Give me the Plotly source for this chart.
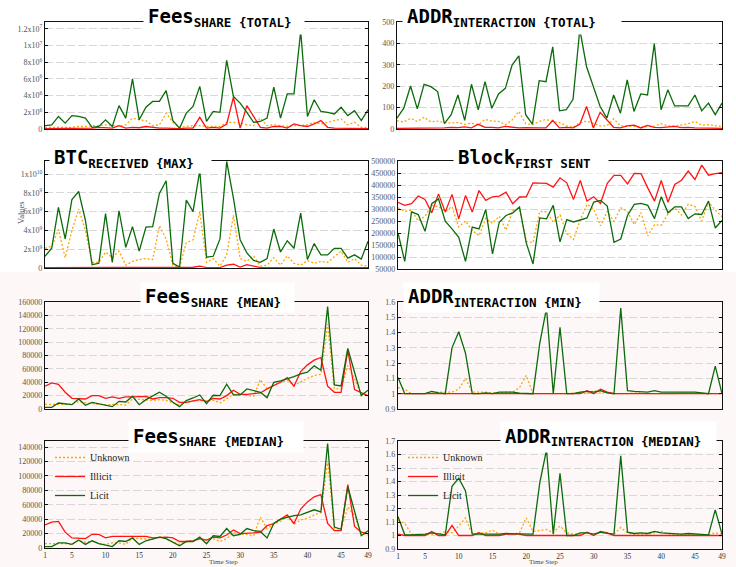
import plotly.graph_objects as go

W, H = 736, 567
steps = list(range(1, 50))

# ---------------- data ----------------
fees_total_unknown = [0.2e6,0.2e6,0.2e6,0.2e6,0.2e6,0.3e6,0.3e6,0.4e6,0.4e6,0.5e6,
                      0.4e6,0.3e6,0.5e6,1.3e6,1.1e6,1.0e6,0.4e6,0.5e6,1.9e6,0.8e6,
                      0.2e6,0.3e6,0.4e6,0.4e6,0.3e6,0.3e6,0.3e6,0.8e6,0.8e6,0.7e6,
                      0.5e6,0.4e6,1.3e6,0.4e6,0.5e6,0.4e6,0.3e6,0.4e6,0.4e6,0.5e6,
                      0.8e6,0.6e6,0.8e6,1.0e6,1.2e6,0.5e6,0.8e6,0.2e6,0.2e6]
fees_total_illicit = [0.05e6,0.05e6,0.05e6,0.05e6,0.05e6,0.05e6,0.1e6,0.1e6,0.2e6,0.15e6,
                      0.1e6,0.4e6,0.1e6,0.2e6,0.15e6,0.3e6,0.2e6,0.1e6,0.1e6,0.05e6,
                      0.05e6,0.1e6,0.1e6,1.4e6,0.1e6,0.2e6,0.1e6,0.6e6,3.8e6,0.1e6,
                      2.8e6,1.5e6,0.2e6,0.1e6,0.3e6,0.3e6,0.1e6,0.6e6,0.4e6,0.3e6,
                      0.6e6,1.0e6,0.2e6,0.1e6,0.1e6,0.1e6,0.1e6,0.05e6,0.05e6]
fees_total_licit = [0.4e6,0.5e6,1.5e6,0.7e6,1.6e6,1.5e6,1.3e6,0.2e6,0.3e6,1.1e6,
                    0.3e6,2.8e6,1.3e6,6.0e6,1.1e6,2.6e6,3.3e6,3.3e6,4.6e6,1.0e6,
                    0.1e6,1.9e6,2.7e6,5.1e6,0.9e6,2.1e6,2.0e6,8.2e6,3.9e6,3.1e6,
                    2.0e6,0.8e6,0.9e6,1.3e6,5.0e6,1.3e6,4.2e6,4.2e6,11.7e6,1.5e6,
                    3.5e6,2.1e6,2.0e6,1.8e6,2.6e6,1.6e6,2.2e6,1.0e6,2.3e6]

addr_total_unknown = [38,33,50,35,55,33,37,30,28,30, 22,27,20,45,37,36,20,42,82,25,
                      20,35,45,35,30,15,8,30,37,25, 15,15,48,15,15,12,8,10,13,25,
                      15,15,18,25,35,18,20,15,12]
addr_total_illicit = [3,3,3,3,3,4,5,5,8,6, 10,5,22,8,8,5,12,8,5,6,
                      4,5,5,40,5,8,5,22,105,5, 78,45,8,5,15,18,5,17,8,6,
                      8,12,6,8,5,5,3,3,3]
addr_total_licit = [51,97,201,94,209,198,175,25,67,159, 40,209,90,221,97,164,190,299,342,67,
                    23,226,221,384,85,90,139,465,291,195, 105,51,159,74,229,82,164,159,399,90,
                    183,108,108,108,159,85,121,67,121]

btc_max_unknown = [2.1e9,2.3e9,4.1e9,1.1e9,4.0e9,6.3e9,4.0e9,0.6e9,0.6e9,1.7e9,
                   1.1e9,1.8e9,0.3e9,0.7e9,0.9e9,1.0e9,0.9e9,4.5e9,3.1e9,0.3e9,
                   0.1e9,2.7e9,3.0e9,6.0e9,0.6e9,1.0e9,0.2e9,1.4e9,5.6e9,1.0e9,
                   0.7e9,1.3e9,0.2e9,0.3e9,1.1e9,0.3e9,1.3e9,0.5e9,0.3e9,0.8e9,
                   0.5e9,0.7e9,0.6e9,1.2e9,1.8e9,0.6e9,1.0e9,0.3e9,0.2e9]
btc_max_illicit = [0.05e9,0.05e9,0.05e9,0.05e9,0.05e9,0.05e9,0.05e9,0.05e9,0.1e9,0.08e9,
                   0.05e9,0.08e9,0.05e9,0.05e9,0.05e9,0.05e9,0.05e9,0.05e9,0.05e9,0.05e9,
                   0.05e9,0.05e9,0.08e9,0.2e9,0.05e9,0.05e9,0.05e9,0.3e9,0.4e9,0.1e9,
                   0.35e9,0.2e9,0.05e9,0.05e9,0.05e9,0.05e9,0.05e9,0.05e9,0.05e9,0.05e9,
                   0.05e9,0.05e9,0.05e9,0.05e9,0.05e9,0.05e9,0.05e9,0.05e9,0.05e9]
btc_max_licit = [1.24e9,2.1e9,6.45e9,3.1e9,7.3e9,8.15e9,5.1e9,0.35e9,0.5e9,5.8e9,
                 0.6e9,6.1e9,2.2e9,4.4e9,1.8e9,4.35e9,4.4e9,7.95e9,9.3e9,0.5e9,
                 0.1e9,7.25e9,6.0e9,10.4e9,1.15e9,1.25e9,3.1e9,11.35e9,7.45e9,3.0e9,
                 1.6e9,0.8e9,0.6e9,1.0e9,4.15e9,1.7e9,2.9e9,2.1e9,5.85e9,0.9e9,
                 2.6e9,1.4e9,1.4e9,2.1e9,2.1e9,1.05e9,1.4e9,0.95e9,2.85e9]

block_first_unknown = [305000,290000,295000,250000,270000,315000,310000,290000,310000,225000,
                       250000,210000,188000,262000,240000,270000,212000,295000,300000,165000,
                       160000,290000,288000,245000,275000,198000,173000,255000,320000,300000,
                       230000,290000,248000,305000,290000,235000,285000,188000,235000,232000,
                       280000,305000,275000,320000,310000,250000,330000,295000,268000]
block_first_illicit = [328000,315000,322000,354000,340000,284000,363000,287000,361000,259000,
                       356000,287000,377000,336000,351000,354000,370000,322000,350000,351000,
                       409000,408000,407000,391000,430000,409000,340000,419000,333000,351000,
                       323000,407000,440000,440000,405000,448000,447000,388000,333000,419000,
                       328000,402000,420000,458000,423000,483000,441000,447000,451000]
block_first_licit = [200000,82000,288000,277000,207000,322000,342000,249000,217000,182000,
                     82000,225000,217000,298000,113000,245000,273000,284000,308000,159000,
                     71000,263000,259000,315000,163000,256000,246000,256000,263000,329000,
                     336000,312000,161000,175000,273000,319000,323000,315000,260000,351000,
                     284000,309000,309000,260000,280000,277000,333000,221000,252000]

fees_mean_unknown = [7000,7000,7000,8000,7000,11000,9000,8000,7000,6000,
                     7000,7000,6000,15000,14000,13000,13000,14000,13000,9000,
                     6000,10000,11000,13000,12000,13000,9000,15000,22000,22000,
                     20000,19000,44000,30000,36000,40000,43000,35000,41000,46000,
                     50000,52000,127000,30000,30000,65000,45000,22000,20000]
fees_mean_illicit = [34000,39000,37000,25000,16000,15000,15000,20000,20000,16000,
                     18000,16000,18000,18000,18000,19000,15000,17000,17000,16000,
                     10000,10000,12000,14000,11000,16000,15000,20000,28000,22000,
                     22000,23000,24000,30000,35000,40000,47000,34000,56000,66000,
                     73000,77000,34000,25000,25000,88000,29000,24000,20000]
fees_mean_licit = [2500,2500,9000,8000,6500,15000,5500,10000,7500,6000,
                   3500,11500,10500,19000,6500,14000,20000,25000,19000,10000,
                   3500,12500,16500,21000,8000,20500,20000,37000,21000,21000,
                   30000,27000,25000,17000,40000,42000,45000,48500,52500,55000,
                   64500,58000,153000,36000,34500,90500,55000,20000,28000]

addr_min_unknown = [1.04,1.03,1.0,1.0,1.0,1.01,1.01,1.01,1.01,1.03,
                    1.10,1.01,1.01,1.01,1.005,1.005,1.01,1.01,1.04,1.12,
                    1.0,1.0,1.0,1.0,1.0,1.0,1.005,1.005,1.0,1.02,
                    1.01,1.005,1.0,1.0,1.0,1.005,1.005,1.0,1.0,1.0,
                    1.0,1.0,1.005,1.005,1.005,1.0,1.0,1.0,1.0]
addr_min_illicit = [1.0,1.0,1.0,1.0,1.0,1.0,1.0,1.0,1.0,1.0,
                    1.0,1.0,1.0,1.0,1.0,1.0,1.0,1.0,1.0,1.0,
                    1.0,1.0,1.0,1.0,1.0,1.0,1.0,1.0,1.02,1.0,
                    1.03,1.01,1.0,1.0,1.0,1.0,1.0,1.0,1.0,1.0,
                    1.0,1.0,1.0,1.0,1.0,1.0,1.0,1.0,1.0]
addr_min_licit = [1.106,1.0,1.0,1.0,1.0,1.015,1.005,1.0,1.30,1.405,
                  1.265,1.0,1.0,1.005,1.0,1.01,1.008,1.01,1.003,1.0,
                  1.0,1.33,1.56,1.0,1.435,1.0,1.0,1.01,1.015,1.01,
                  1.02,1.005,1.0,1.56,1.02,1.015,1.012,1.01,1.02,1.01,
                  1.01,1.01,1.008,1.01,1.01,1.005,1.0,1.18,1.0]

fees_median_unknown = [6000,6000,7000,6000,5000,10000,8000,10000,6000,5000,
                       7000,7000,5000,14000,13000,13000,12000,16000,12000,8000,
                       5000,9000,10000,12000,11000,13000,9000,13000,21000,19000,
                       19000,17000,43000,27000,33000,37000,44000,33000,39000,41000,
                       46000,49000,121000,27000,26000,57000,45000,20000,18000]
fees_median_illicit = [32000,36000,37000,22000,14000,13000,13000,19000,19000,14000,
                       16000,16000,16000,17000,16000,16000,14000,15000,15000,14000,
                       9000,9000,10000,13000,11000,15000,14000,18000,25000,20000,
                       20000,21000,22000,31000,34000,40000,46000,34000,54000,64000,
                       71000,74000,34000,24000,24000,88000,30000,22000,20000]
fees_median_licit = [2000,2000,7000,7000,5000,11000,5000,10000,6000,4000,
                     2000,10000,9000,14000,5000,10000,13000,15000,13000,8000,
                     3000,9000,9000,15000,6000,17000,16000,27000,17000,19000,
                     27000,24000,23000,14000,34000,40000,43000,45000,46000,49000,
                     53000,50000,145000,29000,26000,85000,50000,17000,24000]

addr_median_unknown = [1.11,1.09,1.01,1.005,1.005,1.01,1.01,1.03,1.02,1.07,
                       1.13,1.01,1.02,1.02,1.04,1.01,1.01,1.01,1.02,1.13,
                       1.03,1.04,1.045,1.02,1.07,1.02,1.01,1.01,1.02,1.005,
                       1.02,1.02,1.01,1.06,1.02,1.01,1.01,1.01,1.02,1.03,
                       1.01,1.01,1.01,1.01,1.01,1.005,1.005,1.02,1.01]
addr_median_illicit = [1.01,1.0,1.0,1.0,1.0,1.03,1.0,1.0,1.075,1.0,
                       1.0,1.0,1.02,1.0,1.0,1.0,1.01,1.01,1.01,1.0,
                       1.0,1.0,1.0,1.0,1.0,1.0,1.0,1.0,1.025,1.0,
                       1.03,1.02,1.0,1.0,1.0,1.0,1.0,1.0,1.0,1.0,
                       1.0,1.0,1.0,1.0,1.0,1.0,1.0,1.0,1.0]
addr_median_licit = [1.14,1.005,1.005,1.005,1.01,1.02,1.01,1.005,1.365,1.425,
                     1.33,1.01,1.01,1.01,1.005,1.01,1.015,1.015,1.015,1.01,
                     1.01,1.39,1.635,1.01,1.46,1.0,1.0,1.02,1.02,1.01,
                     1.025,1.015,1.01,1.59,1.025,1.015,1.02,1.015,1.03,1.02,
                     1.015,1.015,1.01,1.015,1.01,1.01,1.005,1.19,1.01]

series_names = ["Unknown", "Illicit", "Licit"]

ytick_fees_total = [0, 2e6, 4e6, 6e6, 8e6, 1e7, 1.2e7]
ytext_fees_total = ["0", "2x10<sup>6</sup>", "4x10<sup>6</sup>", "6x10<sup>6</sup>",
                    "8x10<sup>6</sup>", "1x10<sup>7</sup>", "1.2x10<sup>7</sup>"]
ytick_addr_total = [0, 100, 200, 300, 400, 500]
ytick_btc = [0, 2e9, 4e9, 6e9, 8e9, 1e10]
ytext_btc = ["0", "2x10<sup>9</sup>", "4x10<sup>9</sup>", "6x10<sup>9</sup>",
             "8x10<sup>9</sup>", "1x10<sup>10</sup>"]
ytick_block = [50000, 100000, 150000, 200000, 250000, 300000, 350000, 400000, 450000, 500000]
ytick_fees_mean = [0, 20000, 40000, 60000, 80000, 100000, 120000, 140000, 160000]
ytick_addr_min = [0.9, 1.0, 1.1, 1.2, 1.3, 1.4, 1.5, 1.6]
ytext_addr_min = ["0.9", "1", "1.1", "1.2", "1.3", "1.4", "1.5", "1.6"]
ytick_fees_median = [0, 20000, 40000, 60000, 80000, 100000, 120000, 140000]
ytick_addr_median = [0.9, 1.0, 1.1, 1.2, 1.3, 1.4, 1.5, 1.6, 1.7]
ytext_addr_median = ["0.9", "1", "1.1", "1.2", "1.3", "1.4", "1.5", "1.6", "1.7"]
xtick_steps = [1, 5, 10, 15, 20, 25, 30, 35, 40, 45, 49]

# ---------------- panel specs ----------------
panels = [
    dict(main="Fees", sub="SHARE {TOTAL}",
         data=(fees_total_unknown, fees_total_illicit, fees_total_licit),
         yr=[0, 1.28e7], tv=ytick_fees_total, tt=ytext_fees_total),
    dict(main="ADDR", sub="INTERACTION {TOTAL}",
         data=(addr_total_unknown, addr_total_illicit, addr_total_licit),
         yr=[0, 500], tv=ytick_addr_total, tt=[str(v) for v in ytick_addr_total]),
    dict(main="BTC", sub="RECEIVED {MAX}",
         data=(btc_max_unknown, btc_max_illicit, btc_max_licit),
         yr=[0, 1.14e10], tv=ytick_btc, tt=ytext_btc),
    dict(main="Block", sub="FIRST SENT",
         data=(block_first_unknown, block_first_illicit, block_first_licit),
         yr=[50000, 500000], tv=ytick_block, tt=[str(v) for v in ytick_block]),
    dict(main="Fees", sub="SHARE {MEAN}",
         data=(fees_mean_unknown, fees_mean_illicit, fees_mean_licit),
         yr=[0, 160000], tv=ytick_fees_mean, tt=[str(v) for v in ytick_fees_mean]),
    dict(main="ADDR", sub="INTERACTION {MIN}",
         data=(addr_min_unknown, addr_min_illicit, addr_min_licit),
         yr=[0.9, 1.6], tv=ytick_addr_min, tt=ytext_addr_min),
    dict(main="Fees", sub="SHARE {MEDIAN}",
         data=(fees_median_unknown, fees_median_illicit, fees_median_licit),
         yr=[0, 148500], tv=ytick_fees_median, tt=[str(v) for v in ytick_fees_median]),
    dict(main="ADDR", sub="INTERACTION {MEDIAN}",
         data=(addr_median_unknown, addr_median_illicit, addr_median_licit),
         yr=[0.9, 1.7], tv=ytick_addr_median, tt=ytext_addr_median),
]

# plot-area rectangles in pixels (x0, x1, y_top, y_bottom)
areas = [(45, 368, 22, 129), (397, 722, 22, 129),
         (45, 368, 161, 268), (398, 722, 161, 269),
         (45, 368, 302, 409), (398, 722, 302, 409),
         (45, 368, 441, 548), (398, 722, 441, 549)]
# title boxes in pixels (x0, y0, x1, y1)
boxes = [(143, 0, 303, 33), (402, 0, 620, 33),
         (49, 143, 210, 172), (453, 143, 607, 172),
         (140, 282, 293, 311), (403, 282, 598, 311),
         (128, 421, 302, 451), (500, 421, 715, 451)]

COLORS = ["#ffa500", "#ff1414", "#0b6b0b"]
DASHES = ["2px,2px", "solid", "solid"]
WIDTHS = [1.3, 1.3, 1.3]

fig = go.Figure()
layout = {}
annotations = []

serif = "Liberation Serif"

for k, (p, a, b) in enumerate(zip(panels, areas, boxes), start=1):
    xa = "x" if k == 1 else f"x{k}"
    ya = "y" if k == 1 else f"y{k}"
    legend_name = "legend" if k == 7 else ("legend2" if k == 8 else None)
    for s in range(3):
        fig.add_trace(go.Scatter(
            x=steps, y=p["data"][s], mode="lines", name=series_names[s],
            line=dict(color=COLORS[s], width=WIDTHS[s], dash=DASHES[s]),
            xaxis=xa, yaxis=ya,
            showlegend=legend_name is not None,
            legend=legend_name if legend_name else "legend",
        ))
    x0, x1, yt, yb = a
    bottom = k in (7, 8)
    layout["xaxis" if k == 1 else f"xaxis{k}"] = dict(
        domain=[x0 / W, x1 / W], anchor=ya, range=[1, 49],
        showline=True, linecolor="#111", linewidth=1.3, mirror=True,
        showgrid=False, zeroline=False, automargin=False,
        ticks="", tickvals=xtick_steps if bottom else [],
        showticklabels=bottom,
        tickfont=dict(family=serif, size=7.5, color="#333"),
    )
    layout["yaxis" if k == 1 else f"yaxis{k}"] = dict(
        domain=[1 - yb / H, 1 - yt / H], anchor=xa, range=p["yr"],
        showline=True, linecolor="#111", linewidth=1.3, mirror="ticks",
        ticks="inside", ticklen=3, tickcolor="#111", tickwidth=1,
        tickvals=p["tv"], ticktext=p["tt"],
        tickfont=dict(family=serif, size=8, color="#555"),
        showgrid=True, gridcolor="#d8d8d8", griddash="8px,3px", gridwidth=1,
        zeroline=False, automargin=False,
    )
    bx0, by0, bx1, by1 = b
    pad = 4
    annotations.append(dict(
        xref="paper", yref="paper", x=bx0 / W, y=1 - by0 / H,
        xanchor="left", yanchor="top",
        width=bx1 - bx0 - 2 * pad, height=by1 - by0 - 2 * pad,
        borderpad=pad, bgcolor="white", align="left", valign="middle",
        showarrow=False,
        text=f"{p['main']}<sub><span style='font-size:12.5px'>{p['sub']}</span></sub>",
        font=dict(family="DejaVu Sans Mono", size=19, color="black", weight="bold"),
    ))

annotations.append(dict(xref="paper", yref="paper", x=14 / W, y=1 - 213 / H,
                        text="Values", textangle=-90, showarrow=False,
                        font=dict(family=serif, size=8.5, color="#555")))
for cx in (207, 560):
    annotations.append(dict(xref="paper", yref="paper", x=cx / W, y=1 - 561.5 / H,
                            yanchor="middle", text="Time Step", showarrow=False,
                            font=dict(family=serif, size=7, color="#444")))

legend_common = dict(bgcolor="rgba(0,0,0,0)", xanchor="left", yanchor="top",
                     font=dict(family=serif, size=10, color="#222"),
                     tracegroupgap=0, itemwidth=30)

fig.update_layout(
    width=W, height=H, margin=dict(l=0, r=0, t=0, b=0),
    template="none",
    paper_bgcolor="white", plot_bgcolor="rgba(0,0,0,0)",
    annotations=annotations,
    legend=dict(x=50 / W, y=1 - 443 / H, **legend_common),
    legend2=dict(x=403 / W, y=1 - 443 / H, **legend_common),
    shapes=[dict(type="rect", xref="paper", yref="paper", x0=0, x1=1,
                 y0=0, y1=1 - 272 / H, fillcolor="#fdf8f7", line=dict(width=0),
                 layer="below")],
    **layout,
)

fig.write_html("out.html", config={"displayModeBar": False},
               post_script="document.body.style.margin='0';")
